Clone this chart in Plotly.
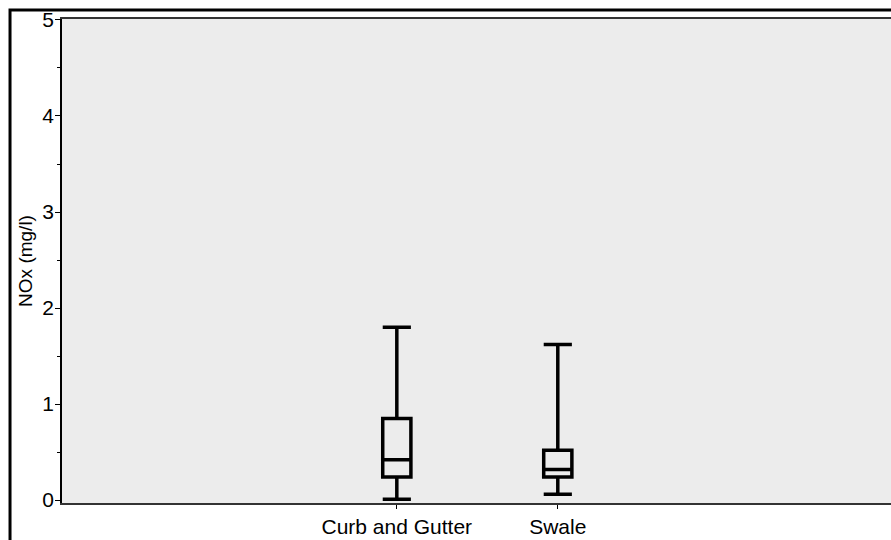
import plotly.graph_objects as go

categories = ["Curb and Gutter", "Swale"]
positions = [0, 1]
lower_whisker = [0.01, 0.06]
q1 = [0.24, 0.24]
median = [0.42, 0.32]
q3 = [0.85, 0.52]
upper_whisker = [1.80, 1.62]
y_ticks = [0, 1, 2, 3, 4, 5]

fig = go.Figure()
fig.add_trace(go.Box(
    x=positions,
    q1=q1, median=median, q3=q3,
    lowerfence=lower_whisker, upperfence=upper_whisker,
    width=0.175,
    whiskerwidth=1,
    line=dict(color="black", width=3.5),
    fillcolor="rgba(0,0,0,0)",
    boxpoints=False,
    showlegend=False,
    hoverinfo="skip",
))

fig.update_layout(
    width=891, height=540,
    margin=dict(l=62, r=0, t=19, b=37),
    paper_bgcolor="white",
    plot_bgcolor="#ececec",
    font=dict(family="Liberation Sans, Arial, sans-serif", color="black"),
    xaxis=dict(
        range=[-2.08, 3.07],
        tickvals=positions, ticktext=categories,
        ticks="outside", ticklen=4, tickcolor="black",
        tickfont=dict(size=21),
        showgrid=False, zeroline=False,
        showline=True, linecolor="#333333", linewidth=1.5, mirror=True,
    ),
    yaxis=dict(
        range=[-0.03, 5.01],
        tickvals=y_ticks,
        ticks="outside", ticklen=5, tickcolor="black",
        tickfont=dict(size=21),
        ticklabelstandoff=-3,
        minor=dict(dtick=0.5, ticks="outside", ticklen=3, tickcolor="black", showgrid=False),
        showgrid=False, zeroline=False,
        showline=True, linecolor="black", linewidth=1.5, mirror=False,
        title=dict(text="NOx (mg/l)", font=dict(size=19), standoff=5),
    ),
    shapes=[dict(
        type="rect", xref="paper", yref="paper",
        x0=-0.0627, x1=1.1, y0=-0.3, y1=1.0186,
        line=dict(color="black", width=3), fillcolor="rgba(0,0,0,0)", layer="above",
    )],
)

fig.write_html(
    "out.html",
    config={"displayModeBar": False},
    post_script="document.body.style.margin='0px';document.body.style.overflow='hidden';",
)
